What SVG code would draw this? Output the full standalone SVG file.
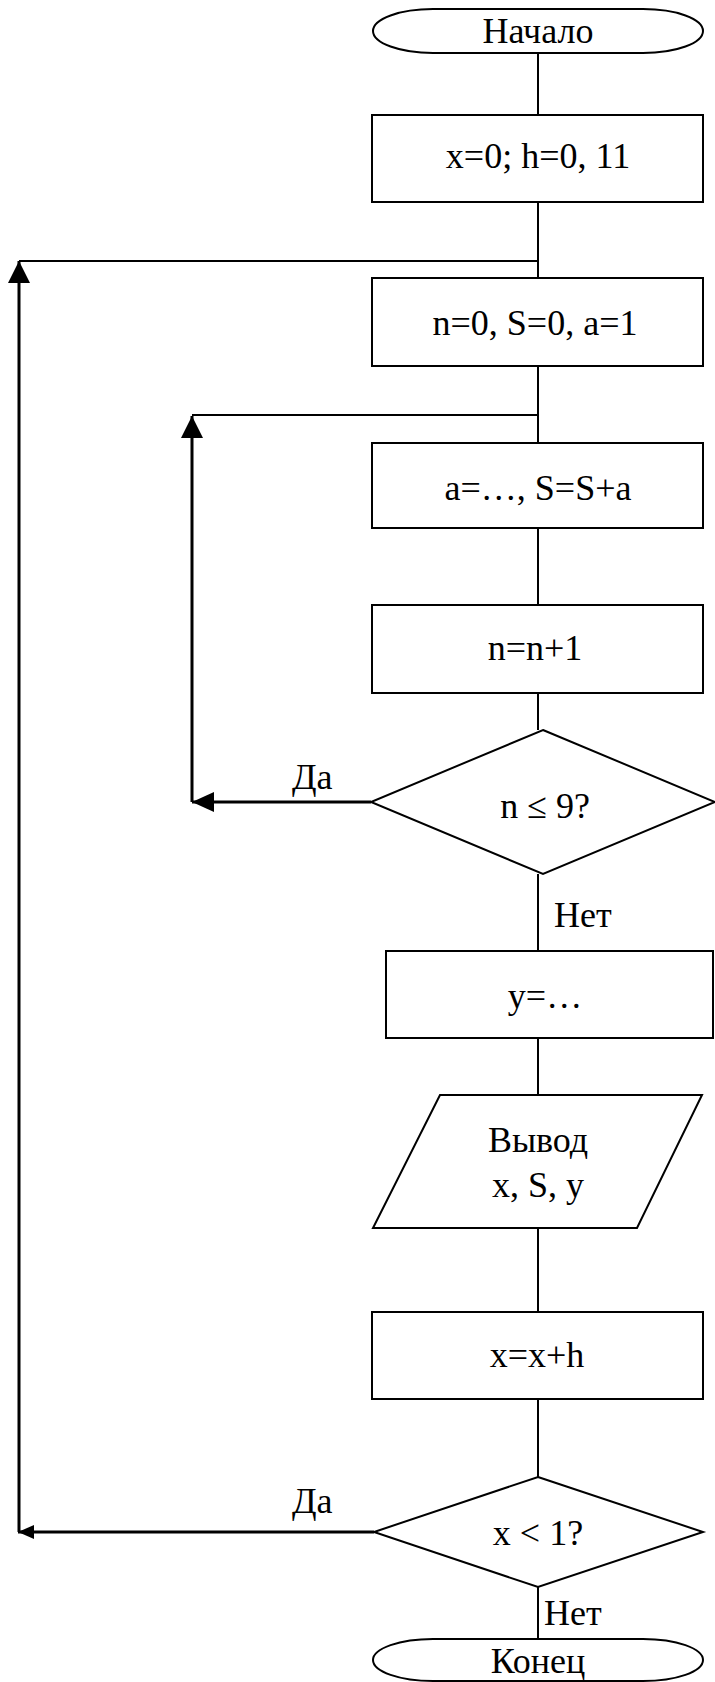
<svg xmlns="http://www.w3.org/2000/svg" width="715" height="1682" viewBox="0 0 715 1682">
<style>
.s{fill:#fff;stroke:#000;stroke-width:2}
.t{font-family:'Liberation Serif','DejaVu Serif',serif;font-size:36px;fill:#000;text-anchor:middle}
.l{font-family:'Liberation Serif','DejaVu Serif',serif;font-size:36px;fill:#000}
.c{fill:none;stroke:#000;stroke-width:2}
.k{fill:none;stroke:#000;stroke-width:3}
</style>
<defs>
<marker id="ah" viewBox="0 0 22 22" refX="22" refY="11" markerWidth="22" markerHeight="22" markerUnits="userSpaceOnUse" orient="auto">
<path d="M0,0 L22,11 L0,22 Z" fill="#000"/>
</marker>
<marker id="ahs" viewBox="0 0 16 14" refX="16" refY="7" markerWidth="16" markerHeight="14" markerUnits="userSpaceOnUse" orient="auto">
<path d="M0,0 L16,7 L0,14 Z" fill="#000"/>
</marker>
</defs>
<g id="connectors">
<line class="c" x1="538" y1="53" x2="538" y2="115"/>
<line class="c" x1="538" y1="202" x2="538" y2="278"/>
<line class="c" x1="538" y1="366" x2="538" y2="443"/>
<line class="c" x1="538" y1="528" x2="538" y2="605"/>
<line class="c" x1="538" y1="693" x2="538" y2="730"/>
<line class="c" x1="538" y1="874" x2="538" y2="951"/>
<line class="c" x1="538" y1="1038" x2="538" y2="1095"/>
<line class="c" x1="538" y1="1228" x2="538" y2="1312"/>
<line class="c" x1="538" y1="1399" x2="538" y2="1477"/>
<line class="c" x1="538" y1="1587" x2="538" y2="1639"/>
<line class="c" x1="538" y1="261" x2="19" y2="261"/>
<line class="c" x1="538" y1="415" x2="192" y2="415"/>
<polyline class="k" points="371,802 192,802"/>
<line class="k" x1="192" y1="802" x2="192" y2="416" marker-end="url(#ah)"/>
<polyline class="k" points="374,1532 18,1532" marker-end="url(#ahs)"/>
<line class="k" x1="19" y1="1532" x2="19" y2="261" marker-end="url(#ah)"/>
<path d="M192,802 L214,792 L214,812 Z" fill="#000"/>
<text class="l" x="292" y="789">Да</text>
<text class="l" x="554" y="927">Нет</text>
<text class="l" x="292" y="1513">Да</text>
<text class="l" x="544" y="1625">Нет</text>
</g>
<g id="start">
<path class="s" d="M433,9 H643 A60,22 0 0 1 643,53 H433 A60,22 0 0 1 433,9 Z"/>
<text class="t" x="538" y="43">Начало</text>
</g>
<g id="init">
<rect class="s" x="372" y="115" width="331" height="87"/>
<text class="t" x="538" y="168">x=0; h=0, 11</text>
</g>
<g id="reset">
<rect class="s" x="372" y="278" width="331" height="88"/>
<text class="t" x="535" y="335">n=0, S=0, a=1</text>
</g>
<g id="accum">
<rect class="s" x="372" y="443" width="331" height="85"/>
<text class="t" x="538" y="500">a=…, S=S+a</text>
</g>
<g id="inc">
<rect class="s" x="372" y="605" width="331" height="88"/>
<text class="t" x="535" y="660">n=n+1</text>
</g>
<g id="cond1">
<polygon class="s" points="543,730 715,802 543,874 371,802"/>
<text class="t" x="545" y="818">n ≤ 9?</text>
</g>
<g id="calc">
<rect class="s" x="386" y="951" width="327" height="87"/>
<text class="t" x="545" y="1008">y=…</text>
</g>
<g id="output">
<polygon class="s" points="440,1095 702,1095 637,1228 373,1228"/>
<text class="t" x="538" y="1152">Вывод</text>
<text class="t" x="538" y="1197">x, S, y</text>
</g>
<g id="step">
<rect class="s" x="372" y="1312" width="331" height="87"/>
<text class="t" x="537" y="1367">x=x+h</text>
</g>
<g id="cond2">
<polygon class="s" points="538,1477 703,1532 538,1587 374,1532"/>
<text class="t" x="538" y="1545">x &lt; 1?</text>
</g>
<g id="end">
<path class="s" d="M433,1639 H643 A60,21 0 0 1 643,1681 H433 A60,21 0 0 1 433,1639 Z"/>
<text class="t" x="538" y="1673">Конец</text>
</g>
</svg>
